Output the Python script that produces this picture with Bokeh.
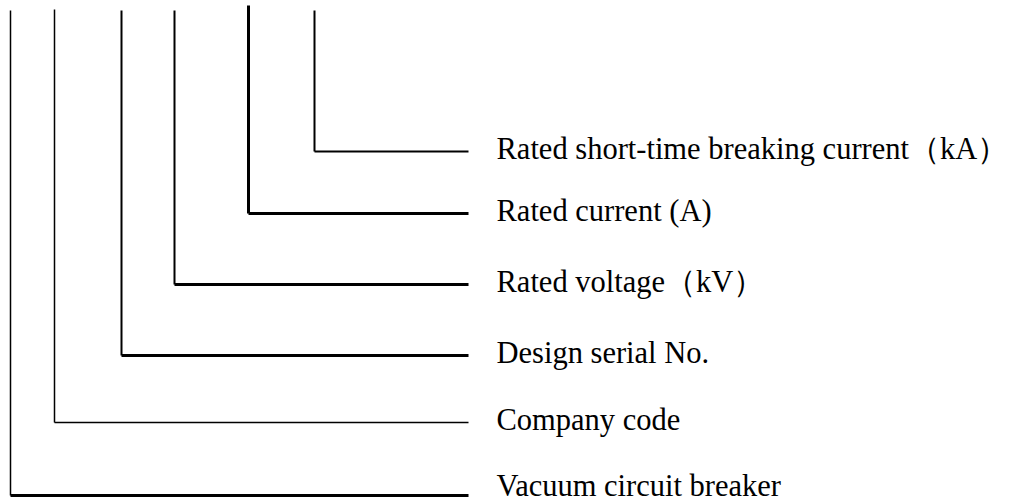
from bokeh.plotting import figure
from bokeh.models import Range1d, ColumnDataSource
from bokeh.core.properties import value
from bokeh.embed import file_html
from bokeh.resources import INLINE

# Labels, bottom to top (first code position = outermost bracket)
labels = [
    "Vacuum circuit breaker",
    "Company code",
    "Design serial No.",
    "Rated voltage\uff08kV\uff09",
    "Rated current (A)",
    "Rated short-time breaking current\uff08kA\uff09",
]

# Layout (reference pixel coordinates)
stem_x = [10, 54, 121, 174, 248, 314]
stem_top = [10, 9, 10, 10, 5, 10]
branch_y = [495, 422, 355, 284, 213, 151]
branch_end = 468
label_x = 496
label_rise = 3
label_floor = 485
stem_w = [1.5, 1.5, 2, 2, 3, 2]
branch_w = [3, 1.5, 3, 3, 3, 2]

W, H = 1017, 502
p = figure(width=W, height=H, output_backend="svg", toolbar_location=None,
           x_range=Range1d(0, W), y_range=Range1d(H, 0), min_border=0)
p.axis.visible = False
p.grid.visible = False
p.outline_line_color = None
p.background_fill_color = "white"
p.border_fill_color = "white"

stems = ColumnDataSource(dict(x0=stem_x, y0=stem_top, x1=stem_x, y1=branch_y, w=stem_w))
p.segment("x0", "y0", "x1", "y1", source=stems, line_color="black", line_width="w")

branches = ColumnDataSource(dict(x0=stem_x, y0=branch_y, x1=[branch_end] * len(stem_x),
                                 y1=branch_y, w=branch_w))
p.segment("x0", "y0", "x1", "y1", source=branches, line_color="black", line_width="w")

texts = ColumnDataSource(dict(x=[label_x] * len(labels),
                              y=[min(y - label_rise, label_floor) for y in branch_y],
                              t=labels))
p.text("x", "y", text="t", source=texts, text_font=value("Liberation Serif"),
       text_font_size="30.5px", text_color="black", text_baseline="middle",
       text_align="left")

open("out.html", "w").write(file_html(p, INLINE))
